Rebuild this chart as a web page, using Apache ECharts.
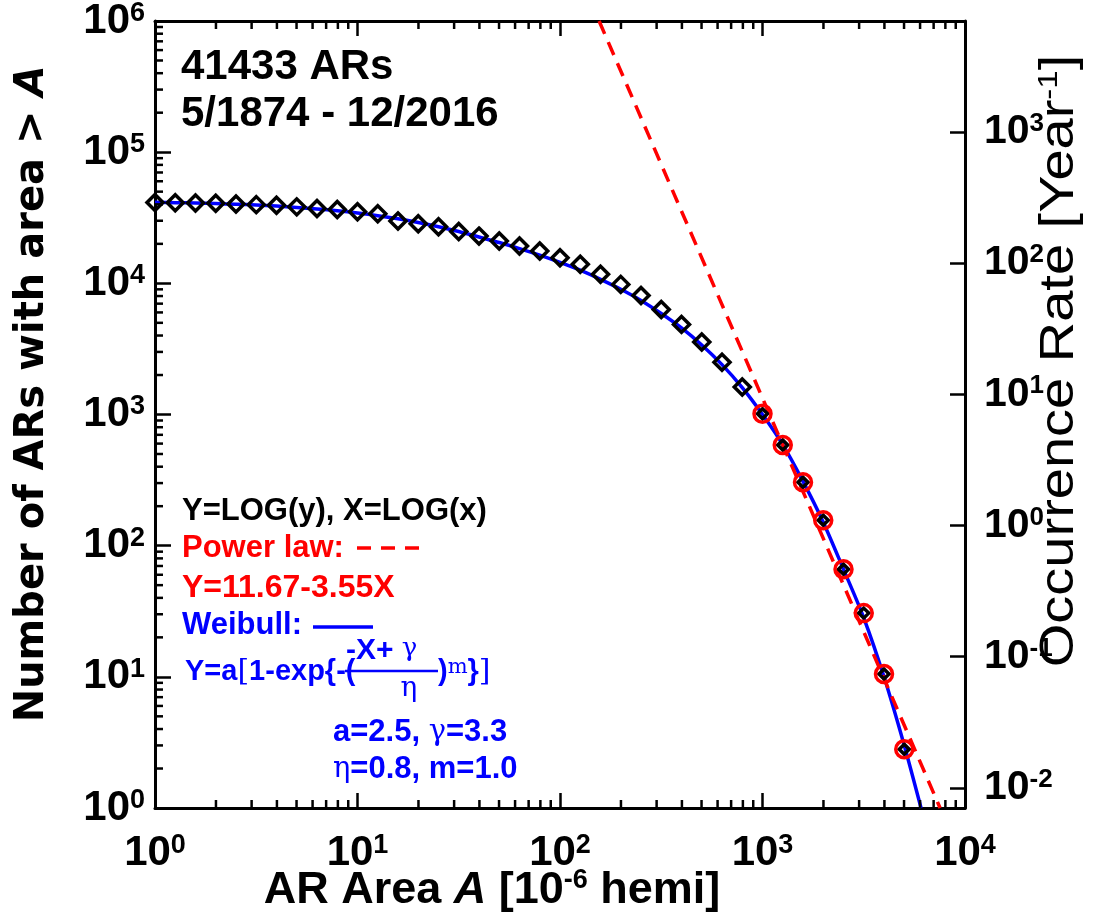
<!DOCTYPE html>
<html><head><meta charset="utf-8">
<script src="https://cdn.jsdelivr.net/npm/echarts@6/dist/echarts.min.js"></script>
<style>html,body{margin:0;padding:0;background:#fff}#c{width:1096px;height:922px}</style>
</head><body><div id="c"></div>
<script>
// AR area bins (10^0.0 ... 10^3.7) and cumulative counts N(>A)
const areaBins = [1,1.259,1.585,1.995,2.512,3.162,3.981,5.012,6.310,7.943,10,12.59,15.85,19.95,25.12,31.62,39.81,50.12,63.10,79.43,100,125.9,158.5,199.5,251.2,316.2,398.1,501.2,631.0,794.3,1000,1259,1585,1995,2512,3162,3981,5012];
const countAbove = [41400,41210,41020,40740,40270,39810,39360,38280,37150,36560,35080,33880,29850,28510,27040,24830,22910,20990,19280,17660,15670,13960,11720,9817,8091,6310,4864,3573,2500,1622,1012,586,304,156,66,30.6,10.5,2.8];
// Weibull fit curve
const weibullX = [1,1.259,1.585,1.995,2.512,3.162,3.981,5.012,6.310,7.943,10,12.59,15.85,19.95,25.12,31.62,39.81,50.12,63.10,79.43,100,125.9,158.5,199.5,251.2,316.2,398.1,501.2,631.0,794.3,1000,1259,1585,1995,2512,3162,3981,5012,6067];
const weibullY = [41500,41210,40930,40550,40090,39540,38820,37930,36900,35730,34360,32810,31050,29110,27040,24830,22540,20460,18410,16410,14450,12590,10720,9016,7413,5888,4571,3388,2399,1603,1000,589,309,151,66,28.2,10,3.0,1];
// Power-law fit line endpoints
const powerX = [156, 7534];
const powerY = [1e6, 1];
// occurrence-rate scaling
const nARs = 41433;
const years = 142.6;
const fitStartIndex = 30; // points >= 10^3 marked with red circles

const pair = (xs, ys) => xs.map((x, i) => [x, ys[i]]);
const diamondData = pair(areaBins, countAbove);
const circleData = diamondData.slice(fitStartIndex);

const TICKF = 'Liberation Sans';
function powLabel(v) {
  const e = Math.round(Math.log10(v));
  if (Math.abs(Math.log10(v) - e) > 1e-6) return '';
  return '{b|10}{s|' + e + '}';
}
const labelRich = {
  b: {fontFamily: TICKF, fontWeight: 'bold', fontSize: 42, color: '#000', lineHeight: 42},
  s: {fontFamily: TICKF, fontWeight: 'bold', fontSize: 27, color: '#000', verticalAlign: 'top', lineHeight: 26}
};
const labelRichR = {
  b: {fontFamily: TICKF, fontWeight: 'bold', fontSize: 41, color: '#000', lineHeight: 42},
  s: {fontFamily: TICKF, fontWeight: 'bold', fontSize: 26, color: '#000', verticalAlign: 'top', lineHeight: 26}
};
const axisLineStyle = {color: '#000', width: 3};

const chart = echarts.init(document.getElementById('c'), null, {renderer: 'canvas'});
const option = {
  animation: false,
  backgroundColor: '#fff',
  grid: {left: 155, right: 131, top: 21, bottom: 114, containLabel: false},
  xAxis: [
    {type: 'log', logBase: 10, min: 1, max: 1e4, position: 'bottom',
     axisLine: {show: true, lineStyle: axisLineStyle},
     axisTick: {show: true, inside: true, length: 15, lineStyle: {color: '#000', width: 2.5}},
     axisLabel: {formatter: powLabel, rich: labelRich, margin: 24, showMinLabel: true, showMaxLabel: true},
     splitLine: {show: false}},
    {type: 'log', logBase: 10, min: 1, max: 1e4, position: 'top',
     axisLine: {show: true, lineStyle: axisLineStyle},
     axisTick: {show: true, inside: true, length: 15, lineStyle: {color: '#000', width: 2.5}},
     axisLabel: {show: false}, splitLine: {show: false}}
  ],
  yAxis: [
    {type: 'log', logBase: 10, min: 1, max: 1e6, position: 'left',
     axisLine: {show: true, lineStyle: axisLineStyle},
     axisTick: {show: true, inside: true, length: 16, lineStyle: {color: '#000', width: 2.5}},
     axisLabel: {formatter: powLabel, rich: labelRich, margin: 10},
     splitLine: {show: false}},
    {type: 'log', logBase: 10, min: 1 / years, max: 1e6 / years, position: 'right',
     axisLine: {show: true, lineStyle: axisLineStyle},
     axisTick: {show: true, inside: true, length: 15, lineStyle: {color: '#000', width: 2.5}},
     axisLabel: {formatter: powLabel, rich: labelRichR, margin: 19, showMinLabel: false, showMaxLabel: false},
     splitLine: {show: false}}
  ],
  series: [
    {name: 'Weibull', type: 'line', xAxisIndex: 0, yAxisIndex: 0, data: pair(weibullX, weibullY),
     smooth: 0.3, showSymbol: false, symbol: 'none', z: 2,
     lineStyle: {color: '#0000ff', width: 3.5}},
    {name: 'Power law', type: 'line', xAxisIndex: 0, yAxisIndex: 0, data: pair(powerX, powerY),
     showSymbol: false, symbol: 'none', z: 3,
     lineStyle: {color: '#ff0000', width: 3.5, type: [14, 9]}},
    {name: 'Counts', type: 'scatter', xAxisIndex: 0, yAxisIndex: 0, data: diamondData,
     symbol: 'diamond', symbolSize: (v) => v[0] >= 999 ? 10 : 16, z: 4,
     itemStyle: {color: 'rgba(0,0,0,0)', borderColor: '#000', borderWidth: 3.5, opacity: 1}},
    {name: 'Fit range', type: 'scatter', xAxisIndex: 0, yAxisIndex: 0, data: circleData,
     symbol: 'circle', symbolSize: 17, z: 5,
     itemStyle: {color: 'rgba(0,0,0,0)', borderColor: '#ff0000', borderWidth: 3.5, opacity: 1}},
    {name: 'minorTicks', type: 'custom', xAxisIndex: 0, yAxisIndex: 0, data: [[1, 1]], silent: true, z: 10, clip: false,
     renderItem: function (params, api) {
       const children = [];
       const x0 = api.coord([1, 1])[0];
       const yb = api.coord([1, 1])[1], yt = api.coord([1, 1e6])[1];
       const st = {stroke: '#000', lineWidth: 2.5};
       for (let k = 0; k < 6; k++) for (let m = 2; m <= 9; m++) {
         const y = api.coord([1, m * Math.pow(10, k)])[1];
         children.push({type: 'line', shape: {x1: x0, y1: y, x2: x0 + 8, y2: y}, style: st});
       }
       for (let k = 0; k < 4; k++) for (let m = 2; m <= 9; m++) {
         const x = api.coord([m * Math.pow(10, k), 1])[0];
         children.push({type: 'line', shape: {x1: x, y1: yb, x2: x, y2: yb - 8}, style: st});
         children.push({type: 'line', shape: {x1: x, y1: yt, x2: x, y2: yt + 8}, style: st});
       }
       return {type: 'group', children: children};
     }}
  ],
  graphic: [
    // axis titles
    {type: 'text', x: 33, y: 394, rotation: Math.PI / 2, silent: true,
     style: {text: '{n|Number of ARs with area > }{i|A}', align: 'center', verticalAlign: 'middle',
       rich: {n: {fontFamily: 'DejaVu Sans', fontWeight: 'bold', fontSize: 40, fill: '#000'},
              i: {fontFamily: 'DejaVu Sans', fontWeight: 'bold', fontStyle: 'italic', fontSize: 40, fill: '#000'}}}},
    {type: 'text', x: 492, y: 891, silent: true,
     style: {text: '{n|AR Area }{i|A}{n| [10}{s|-6}{n| hemi]}', align: 'center', verticalAlign: 'middle',
       rich: {n: {fontFamily: 'Liberation Sans', fontWeight: 'bold', fontSize: 45, fill: '#000', lineHeight: 48},
              i: {fontFamily: 'Liberation Sans', fontWeight: 'bold', fontStyle: 'italic', fontSize: 45, fill: '#000', lineHeight: 48},
              s: {fontFamily: 'Liberation Sans', fontWeight: 'bold', fontSize: 27, fill: '#000', verticalAlign: 'top', lineHeight: 28}}}},
    {type: 'text', x: 1060, y: 361, rotation: Math.PI / 2, scaleY: 0.85, silent: true,
     style: {text: '{n|Occurrence Rate [Year}{s|-1}{n|]}', align: 'center', verticalAlign: 'middle',
       rich: {n: {fontFamily: 'Liberation Sans', fontSize: 56, fill: '#000', lineHeight: 58},
              s: {fontFamily: 'Liberation Sans', fontSize: 33, fill: '#000', verticalAlign: 'top', lineHeight: 33}}}},
    // header
    {type: 'text', x: 181, y: 67, silent: true,
     style: {text: '41433 ARs', font: 'bold 42px "Liberation Sans"', fill: '#000', align: 'left', verticalAlign: 'middle'}},
    {type: 'text', x: 181, y: 114, silent: true,
     style: {text: '5/1874 - 12/2016', font: 'bold 42px "Liberation Sans"', fill: '#000', align: 'left', verticalAlign: 'middle'}},
    // fit annotation block
    {type: 'text', x: 182, y: 511, silent: true,
     style: {text: 'Y=LOG(y), X=LOG(x)', font: 'bold 31px "Liberation Sans"', fill: '#000', align: 'left', verticalAlign: 'middle'}},
    {type: 'text', x: 182, y: 548, silent: true,
     style: {text: 'Power law:', font: 'bold 31px "Liberation Sans"', fill: '#ff0000', align: 'left', verticalAlign: 'middle'}},
    {type: 'line', silent: true, shape: {x1: 357, y1: 548, x2: 419, y2: 548},
     style: {stroke: '#ff0000', lineWidth: 3.5, lineDash: [14, 10]}},
    {type: 'text', x: 182, y: 588, silent: true,
     style: {text: 'Y=11.67-3.55X', font: 'bold 32px "Liberation Sans"', fill: '#ff0000', align: 'left', verticalAlign: 'middle'}},
    {type: 'text', x: 182, y: 625, silent: true,
     style: {text: 'Weibull:', font: 'bold 31px "Liberation Sans"', fill: '#0000ff', align: 'left', verticalAlign: 'middle'}},
    {type: 'line', silent: true, shape: {x1: 313, y1: 627, x2: 373, y2: 627},
     style: {stroke: '#0000ff', lineWidth: 3.5}},
    {type: 'text', x: 185, y: 672, silent: true,
     style: {text: 'Y=a{g|[}1-exp{-(', font: 'bold 29px "Liberation Sans"', fill: '#0000ff', align: 'left', verticalAlign: 'middle',
       rich: {g: {fontFamily: 'DejaVu Serif', fontSize: 30, fill: '#0000ff'}}}},
    {type: 'text', x: 346, y: 651, silent: true,
     style: {text: '-X+ {g|γ}', font: 'bold 30px "Liberation Sans"', fill: '#0000ff', align: 'left', verticalAlign: 'middle',
       rich: {g: {fontFamily: 'DejaVu Serif', fontSize: 26, fill: '#0000ff', verticalAlign: 'top'}}}},
    {type: 'line', silent: true, shape: {x1: 345, y1: 671, x2: 438, y2: 671},
     style: {stroke: '#0000ff', lineWidth: 2.5}},
    {type: 'text', x: 409, y: 689, silent: true,
     style: {text: 'η', font: '28px "DejaVu Serif"', fill: '#0000ff', align: 'center', verticalAlign: 'middle'}},
    {type: 'text', x: 438, y: 672, silent: true,
     style: {text: '){s|m}}{g|]}', font: 'bold 29px "Liberation Sans"', fill: '#0000ff', align: 'left', verticalAlign: 'middle',
       rich: {s: {fontFamily: 'DejaVu Serif', fontSize: 21, fill: '#0000ff', verticalAlign: 'top'},
              g: {fontFamily: 'DejaVu Serif', fontSize: 30, fill: '#0000ff'}}}},
    {type: 'text', x: 333, y: 732, silent: true,
     style: {text: 'a=2.5, {g|γ}=3.3', font: 'bold 31px "Liberation Sans"', fill: '#0000ff', align: 'left', verticalAlign: 'middle',
       rich: {g: {fontFamily: 'DejaVu Serif', fontSize: 29, fill: '#0000ff'}}}},
    {type: 'text', x: 333, y: 769, silent: true,
     style: {text: '{g|η}=0.8, m=1.0', font: 'bold 31px "Liberation Sans"', fill: '#0000ff', align: 'left', verticalAlign: 'middle',
       rich: {g: {fontFamily: 'DejaVu Serif', fontSize: 29, fill: '#0000ff'}}}}
  ]
};
chart.setOption(option);
</script>
</body></html>
